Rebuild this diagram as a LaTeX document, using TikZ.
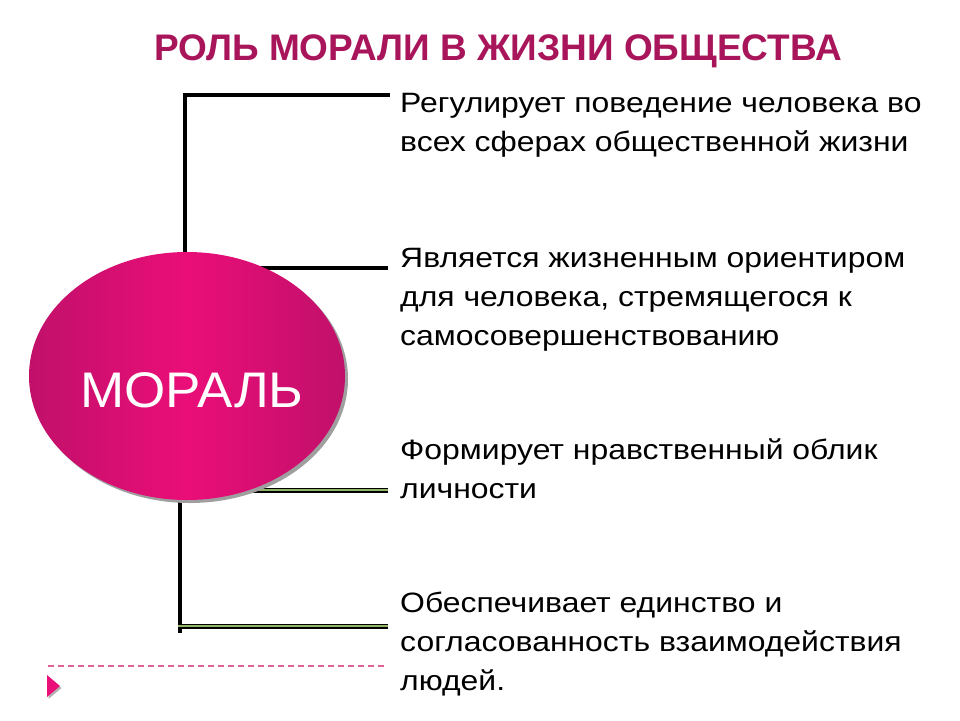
\documentclass[tikz,border=0pt]{standalone}
\usepackage{fontspec}
\setmainfont{Liberation Sans}
\newfontfamily\bodyfont[FakeStretch=1.14]{Liberation Sans}
\newfontfamily\moralfont[FakeStretch=1.06]{Liberation Sans}
\usetikzlibrary{shapes.geometric}
\definecolor{titlecol}{HTML}{A8155A}
\definecolor{magmid}{HTML}{EA0E78}
\definecolor{magedge}{HTML}{C0106A}
\definecolor{dashpink}{HTML}{E0609A}
\definecolor{linegreen}{HTML}{8FB565}
\begin{document}
\begin{tikzpicture}[x=1pt,y=-1pt,
  bodytext/.style={anchor=base west,align=left,inner sep=0pt,font=\bodyfont\fontsize{28}{39}\selectfont,text=black},
  bracket/.style={line width=4pt,black},
  greenline/.style={draw=black,double=linegreen,double distance=1.2pt,line width=1.9pt},
]
\useasboundingbox (0,0) rectangle (960,720);
% title
\node[font=\fontsize{37}{40}\selectfont\bfseries,text=titlecol,anchor=base] (title) at (498,60) {РОЛЬ МОРАЛИ В ЖИЗНИ ОБЩЕСТВА};
% coordinates of bracket
\coordinate (top1) at (185,95);
\coordinate (end1) at (388,95);
\coordinate (start2) at (250,268);
\coordinate (end2) at (388,268);
\coordinate (start3) at (250,490);
\coordinate (end3) at (388,490);
\coordinate (bot4) at (180,633);
\coordinate (start4) at (178,626);
\coordinate (end4) at (388,626);
\coordinate (vup) at (185,300);
\coordinate (vdn) at (180,470);
% lines behind ellipse
\draw[bracket,line cap=rect] (vup) -- (top1) -- (end1);
\draw[bracket] (start2) -- (end2);
\draw[bracket] (vdn) -- (bot4);
\draw[greenline] (start3) -- (end3);
\draw[greenline] (start4) -- (end4);
% ellipse shadow and ellipse
\fill[gray!75] (190,379) ellipse [x radius=158, y radius=124];
\node[ellipse,minimum width=316pt,minimum height=248pt,inner sep=0pt,
  left color=magedge,right color=magedge,middle color=magmid,shading angle=90] (moral) at (187,376) {};
\node[font=\moralfont\fontsize{50}{55}\selectfont,text=white,anchor=base] (moraltext) at (192,407) {МОРАЛЬ};
% texts (anchor = baseline of last line)
\node[bodytext] (t1) at (400,151) {Регулирует поведение человека во\\всех сферах общественной жизни};
\node[bodytext] (t2) at (400,345) {Является жизненным ориентиром\\для человека, стремящегося к\\самосовершенствованию};
\node[bodytext] (t3) at (400,498) {Формирует нравственный облик\\личности};
\node[bodytext] (t4) at (400,690) {Обеспечивает единство и\\согласованность взаимодействия\\людей.};
% dashed line and triangle
\coordinate (d1) at (48,666);
\coordinate (d2) at (387,666);
\draw[dashpink,line width=1.5pt,dash pattern=on 6pt off 4pt] (d1) -- (d2);
\fill[gray!60] (48.5,677) -- (61.5,688) -- (48.5,699) -- cycle;
\fill[magmid] (47,675) -- (60,686) -- (47,697) -- cycle;
\end{tikzpicture}
\end{document}
